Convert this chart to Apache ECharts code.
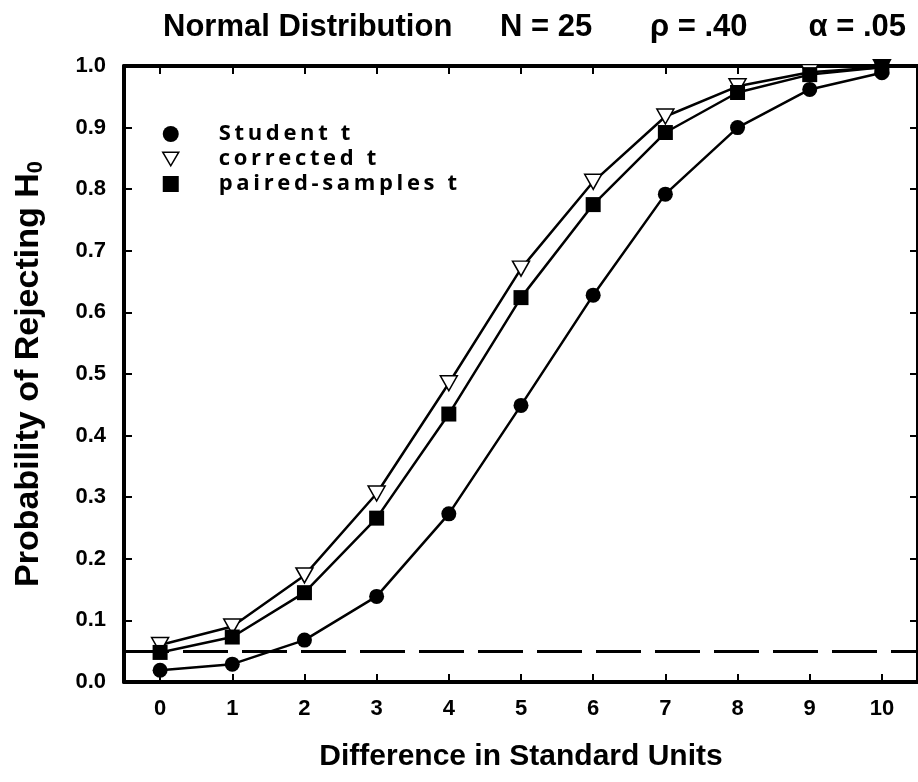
<!DOCTYPE html>
<html>
<head>
<meta charset="utf-8">
<script src="https://cdn.jsdelivr.net/npm/echarts@6/dist/echarts.min.js"></script>
<style>
  html, body { margin: 0; padding: 0; background: #fff; }
  #chart { width: 918px; height: 782px; }
</style>
</head>
<body>
<div id="chart"></div>
<script>
// Power curves: probability of rejecting H0 by mean difference (standard units)
const differences = [0, 1, 2, 3, 4, 5, 6, 7, 8, 9, 10];
const studentT   = [0.019, 0.029, 0.068, 0.139, 0.273, 0.449, 0.628, 0.792, 0.900, 0.962, 0.989];
const correctedT = [0.060, 0.090, 0.173, 0.306, 0.485, 0.671, 0.812, 0.918, 0.967, 0.990, 0.998];
const pairedT    = [0.048, 0.073, 0.145, 0.266, 0.435, 0.624, 0.775, 0.892, 0.957, 0.986, 0.998];
const alphaLevel = 0.05;
const xTicks = [0, 1, 2, 3, 4, 5, 6, 7, 8, 9, 10];
const yTicks = [0, 0.1, 0.2, 0.3, 0.4, 0.5, 0.6, 0.7, 0.8, 0.9, 1.0];
const seriesNames = ['Student t', 'corrected t', 'paired-samples t'];

const FONT = '"Liberation Sans", Arial, Helvetica, sans-serif';
const LEGEND_FONT = '"Open Sans", "Liberation Sans", sans-serif';

const pairs = (ys) => differences.map((d, i) => [d, ys[i]]);
// legend labels are set with loose tracking
const track = (s) => s.split('').join('\u2009');

const chart = echarts.init(document.getElementById('chart'), null, { renderer: 'canvas' });

const frameLine = { show: true, onZero: false, lineStyle: { color: '#000', width: 4 } };
const tickStyle = { color: '#000', width: 2 };

chart.setOption({
  backgroundColor: '#fff',
  animation: false,
  grid: { left: 124, top: 66, width: 797, height: 616, containLabel: false },
  xAxis: [
    {
      type: 'value', min: -0.5, max: 10.5, position: 'bottom',
      axisLine: frameLine,
      axisTick: { show: true, inside: true, length: 8, lineStyle: tickStyle, customValues: xTicks },
      axisLabel: { show: true, customValues: xTicks, margin: 16, color: '#000', fontFamily: FONT, fontWeight: 'bold', fontSize: 22 },
      splitLine: { show: false },
      name: 'Difference in Standard Units', nameLocation: 'middle', nameGap: 60,
      nameTextStyle: { color: '#000', fontFamily: FONT, fontWeight: 'bold', fontSize: 30 }
    },
    {
      type: 'value', min: -0.5, max: 10.5, position: 'top',
      axisLine: frameLine,
      axisTick: { show: true, inside: true, length: 8, lineStyle: tickStyle, customValues: xTicks },
      axisLabel: { show: false },
      splitLine: { show: false }
    }
  ],
  yAxis: [
    {
      type: 'value', min: 0, max: 1, interval: 0.1, position: 'left',
      axisLine: frameLine,
      axisTick: { show: true, inside: true, length: 8, lineStyle: tickStyle, customValues: yTicks },
      axisLabel: { show: true, customValues: yTicks, margin: 18, color: '#000', fontFamily: FONT, fontWeight: 'bold', fontSize: 22,
        formatter: (v) => v.toFixed(1) },
      splitLine: { show: false },
      name: 'Probability of Rejecting H{sub|0}', nameLocation: 'middle', nameGap: 77, nameRotate: 90,
      nameTextStyle: { color: '#000', fontFamily: FONT, fontWeight: 'bold', fontSize: 34,
        rich: { sub: { fontFamily: FONT, fontWeight: 'bold', fontSize: 22, verticalAlign: 'bottom', padding: [14, 0, 0, 0] } } }
    },
    {
      type: 'value', min: 0, max: 1, interval: 0.1, position: 'right',
      axisLine: frameLine,
      axisTick: { show: true, inside: true, length: 8, lineStyle: tickStyle, customValues: yTicks },
      axisLabel: { show: false },
      splitLine: { show: false }
    }
  ],
  legend: {
    orient: 'vertical', left: 162, top: 123, padding: 0, itemWidth: 16, itemHeight: 16, itemGap: 3,
    selectedMode: false,
    formatter: track,
    textStyle: { color: '#000', fontFamily: LEGEND_FONT, fontWeight: 'bold', fontSize: 22, lineHeight: 20, padding: [0, 0, 0, 35] },
    data: [
      { name: seriesNames[0], icon: 'circle', itemStyle: { color: '#000', borderWidth: 0 } },
      { name: seriesNames[1], icon: 'path://M0,0 L20,0 L10,17 Z', itemStyle: { color: '#fff', borderColor: '#000', borderWidth: 1.5 } },
      { name: seriesNames[2], icon: 'rect', itemStyle: { color: '#000', borderWidth: 0 } }
    ]
  },
  graphic: [
    { type: 'text', left: 163, top: 12, style: { text: 'Normal Distribution', font: 'bold 31px ' + FONT, fill: '#000' } },
    { type: 'text', left: 500, top: 12, style: { text: 'N = 25', font: 'bold 31px ' + FONT, fill: '#000' } },
    { type: 'text', left: 650, top: 12, style: { text: 'ρ = .40', font: 'bold 31px ' + FONT, fill: '#000' } },
    { type: 'text', right: 12, top: 12, style: { text: 'α = .05', font: 'bold 31px ' + FONT, fill: '#000' } }
  ],
  series: [
    {
      name: seriesNames[0], type: 'line', data: pairs(studentT),
      symbol: 'circle', symbolSize: 15,
      lineStyle: { color: '#000', width: 2.5 },
      itemStyle: { color: '#000', borderWidth: 0 },
      markLine: {
        silent: true, symbol: 'none', label: { show: false },
        lineStyle: { color: '#000', width: 3, type: [45, 14] },
        data: [{ yAxis: alphaLevel }]
      },
      z: 3
    },
    {
      name: seriesNames[1], type: 'line', data: pairs(correctedT),
      symbol: 'triangle', symbolRotate: 180, symbolSize: [17, 15],
      lineStyle: { color: '#000', width: 2.5 },
      itemStyle: { color: '#fff', borderColor: '#000', borderWidth: 1.5 },
      z: 4
    },
    {
      name: seriesNames[2], type: 'line', data: pairs(pairedT),
      symbol: 'rect', symbolSize: 15,
      lineStyle: { color: '#000', width: 2.5 },
      itemStyle: { color: '#000', borderWidth: 0 },
      z: 5
    }
  ]
});
</script>
</body>
</html>
